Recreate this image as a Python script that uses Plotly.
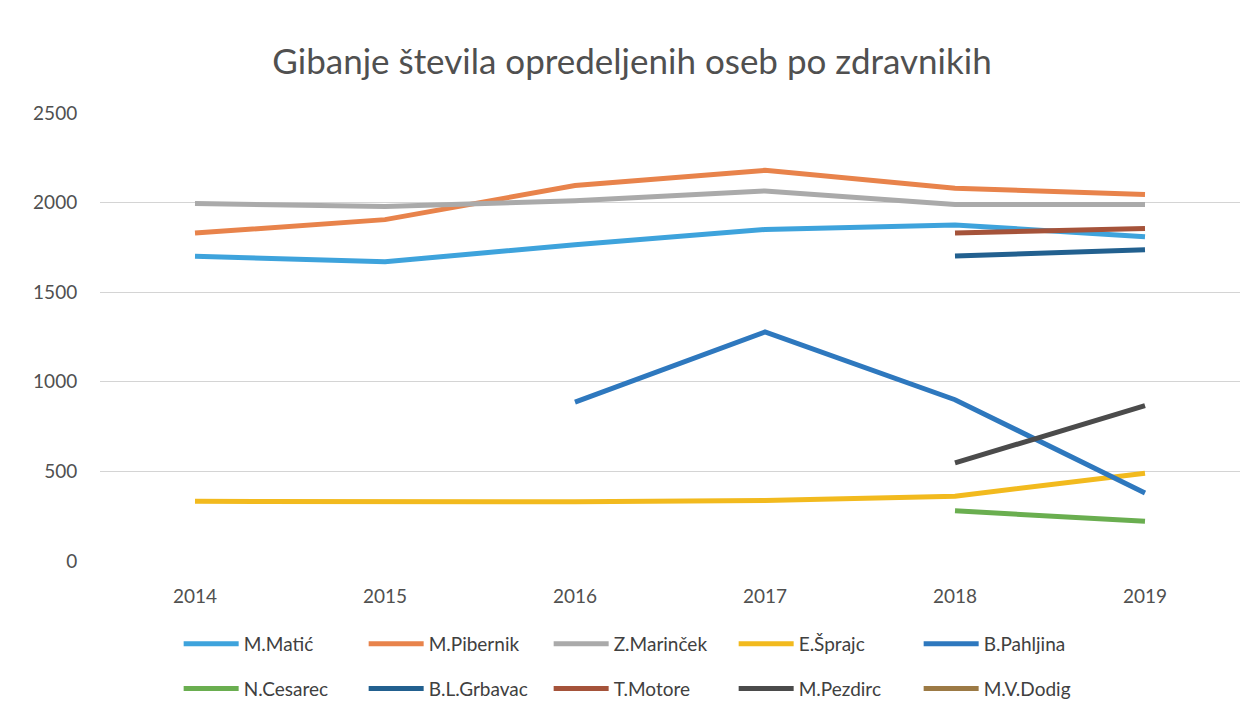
import plotly.graph_objects as go

years = ["2014", "2015", "2016", "2017", "2018", "2019"]

names = ["M.Matić", "M.Pibernik", "Z.Marinček", "E.Šprajc", "B.Pahljina",
         "N.Cesarec", "B.L.Grbavac", "T.Motore", "M.Pezdirc", "M.V.Dodig"]

matic = [1700, 1670, 1765, 1850, 1875, 1810]
pibernik = [1830, 1905, 2095, 2180, 2080, 2045]
marincek = [1995, 1978, 2010, 2065, 1990, 1990]
sprajc = [333, 333, 330, 338, 362, 490]
pahljina = [None, None, 887, 1278, 900, 380]
cesarec = [None, None, None, None, 280, 222]
grbavac = [None, None, None, None, 1702, 1737]
motore = [None, None, None, None, 1830, 1855]
pezdirc = [None, None, None, None, 547, 867]
dodig = [None, None, None, None, None, None]

series = [matic, pibernik, marincek, sprajc, pahljina,
          cesarec, grbavac, motore, pezdirc, dodig]
colors = ["#3EA3DC", "#E8834B", "#AAAAAA", "#F2BA1E", "#2E78BE",
          "#6AAE50", "#22608F", "#A5533A", "#4B4B4B", "#9C7A45"]

fig = go.Figure()
for i, (n, s, c) in enumerate(zip(names, series, colors)):
    fig.add_trace(go.Scatter(
        x=years, y=s, name=n, mode="lines",
        line=dict(color=c, width=5),
        legend="legend" if i < 5 else "legend2",
        connectgaps=False,
    ))

font = "Lato, 'Open Sans', sans-serif"
leg_common = dict(orientation="h", xanchor="left", yanchor="middle",
                  entrywidth=115, entrywidthmode="pixels",
                  font=dict(family=font, size=19, color="#404040"),
                  bgcolor="rgba(0,0,0,0)", itemwidth=55)

fig.update_layout(
    width=1248, height=712,
    paper_bgcolor="white", plot_bgcolor="white",
    margin=dict(l=92, r=16, t=105, b=159, autoexpand=False),
    title=dict(text="Gibanje števila opredeljenih oseb po zdravnikih",
               x=0.5, xanchor="center", y=0.925, yanchor="middle",
               font=dict(family=font, size=35, color="#505050")),
    xaxis=dict(type="category", range=[-0.5, 5.5], showgrid=False,
               showline=False, zeroline=False, ticks="outside", ticklen=18,
               tickcolor="rgba(0,0,0,0)",
               tickfont=dict(family=font, size=19, color="#505050")),
    yaxis=dict(range=[0, 2500], dtick=500, showgrid=True, gridcolor="#D4D4D4",
               gridwidth=1, zeroline=False, showline=False, ticks="outside",
               ticklen=18, tickcolor="rgba(0,0,0,0)",
               tickfont=dict(family=font, size=19, color="#505050")),
    legend=dict(x=0.069, y=-0.185, **leg_common),
    legend2=dict(x=0.069, y=-0.285, **leg_common),
    showlegend=True,
)

fig.write_html("out.html")
